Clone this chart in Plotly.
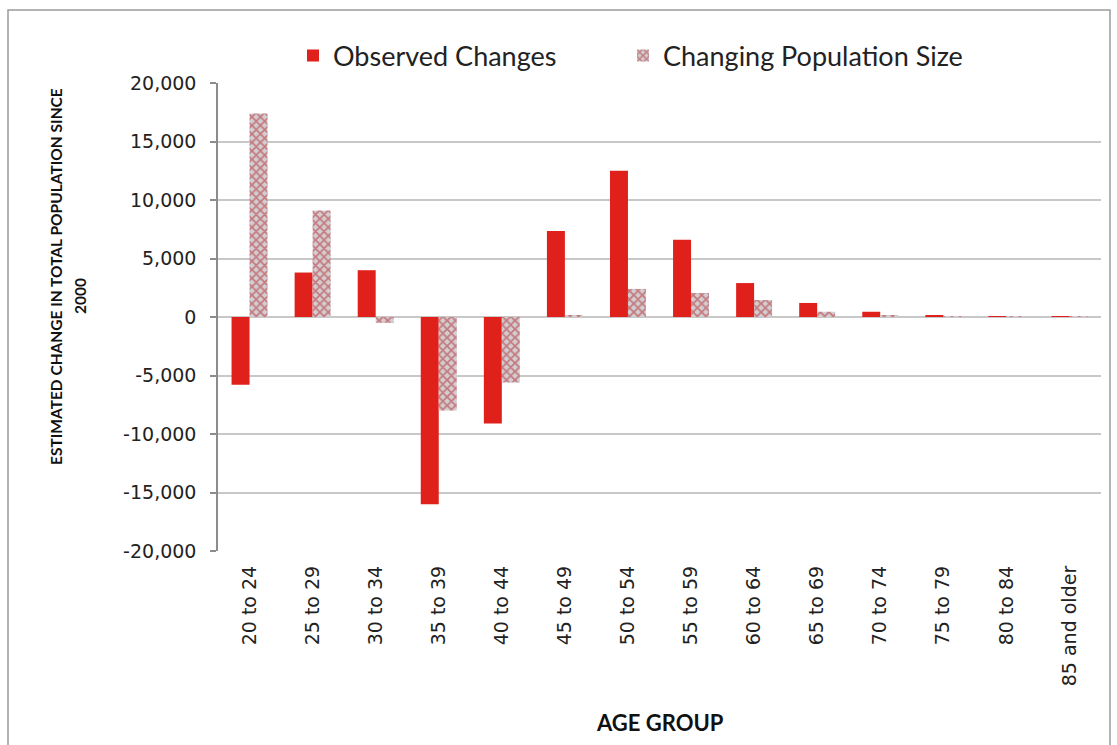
import plotly.graph_objects as go

# Age groups and estimated change in population since 2000
age_groups = ["20 to 24", "25 to 29", "30 to 34", "35 to 39", "40 to 44",
              "45 to 49", "50 to 54", "55 to 59", "60 to 64", "65 to 69",
              "70 to 74", "75 to 79", "80 to 84", "85 and older"]
observed_changes = [-5800, 3800, 4000, -16000, -9100, 7350, 12500,
                    6600, 2900, 1200, 450, 100, 80, 80]
changing_population = [17400, 9100, -500, -8000, -5600, 100, 2400,
                       2050, 1450, 450, 100, 50, 30, 20]

y_ticks = [-20000, -15000, -10000, -5000, 0, 5000, 10000, 15000, 20000]
y_tick_labels = ["-20,000", "-15,000", "-10,000", "-5,000", "0",
                 "5,000", "10,000", "15,000", "20,000"]

RED = "#e0201b"
W, H = 1117, 745
M_L, M_R, M_T, M_B = 218, 16, 83, 194
PW, PH = W - M_L - M_R, H - M_T - M_B

fig = go.Figure()
fig.add_trace(go.Bar(
    x=age_groups, y=observed_changes, name="Observed Changes",
    marker=dict(color=RED, line=dict(width=0)),
    legend="legend",
))
fig.add_trace(go.Bar(
    x=age_groups, y=changing_population, name="Changing Population Size",
    marker=dict(
        color="#d8cdd0",
        line=dict(width=0),
        pattern=dict(shape="x", fgcolor="#b3262a", bgcolor="#d3cdd1",
                     size=6, solidity=0.5),
    ),
    legend="legend2",
))

tick_font = dict(family="DejaVu Sans", size=19, color="#222222")
title_font = dict(family="Lato", size=15.5, color="#111111", weight="bold")
legend_common = dict(
    orientation="h", xref="container", yref="container",
    y=1 - 56 / H, xanchor="left", yanchor="middle",
    font=dict(family="Lato", size=27, color="#222222"),
    itemsizing="constant", bgcolor="rgba(0,0,0,0)",
)

fig.update_layout(
    width=W, height=H,
    margin=dict(l=M_L, r=M_R, t=M_T, b=M_B, autoexpand=False),
    paper_bgcolor="white", plot_bgcolor="white",
    barmode="group", bargap=0.43, bargroupgap=0,
    showlegend=True,
    legend=dict(x=293 / W, **legend_common),
    legend2=dict(x=623 / W, **legend_common),
    xaxis=dict(
        type="category", range=[-0.5, len(age_groups) - 0.5],
        showline=False, showgrid=False, zeroline=False,
        ticks="", tickangle=-90, tickfont=tick_font,
        ticklabelstandoff=10,
    ),
    xaxis2=dict(
        overlaying="x", anchor="free", position=0.5,
        range=[-0.5, len(age_groups) - 0.5], type="linear",
        showline=True, linecolor="#8c8c8c", linewidth=1.5,
        showgrid=False, zeroline=False,
        tickmode="array",
        tickvals=[i + 0.5 for i in range(len(age_groups))],
        ticks="outside", ticklen=6, tickcolor="#6f6f6f", tickwidth=1.5,
        showticklabels=False,
    ),
    yaxis=dict(
        range=[-20000, 20000], tickmode="array", tickvals=y_ticks,
        ticktext=y_tick_labels, tickfont=tick_font,
        showgrid=True, gridcolor="#c8c8c8", gridwidth=1.5,
        zeroline=False,
        showline=True, linecolor="#8c8c8c", linewidth=1.5,
        ticks="outside", ticklen=6, tickcolor="#8c8c8c", tickwidth=1.5,
        ticklabelstandoff=10,
    ),
    shapes=[dict(
        type="rect", xref="paper", yref="paper",
        x0=(8 - M_L) / PW, x1=(1110 - M_L) / PW,
        y0=-0.6, y1=1 + (M_T - 10) / PH,
        line=dict(color="#9a9a9a", width=1.5), layer="below",
    )],
    annotations=[
        dict(
            text="ESTIMATED CHANGE IN TOTAL POPULATION SINCE",
            xref="paper", yref="paper", textangle=-90,
            x=(56 - M_L) / PW, y=1 - (277 - M_T) / PH,
            xanchor="center", yanchor="middle", showarrow=False,
            font=title_font,
        ),
        dict(
            text="2000",
            xref="paper", yref="paper", textangle=-90,
            x=(80 - M_L) / PW, y=1 - (296 - M_T) / PH,
            xanchor="center", yanchor="middle", showarrow=False,
            font=title_font,
        ),
        dict(
            text="AGE GROUP",
            xref="paper", yref="paper",
            x=(660 - M_L) / PW, y=-(722 - M_T - PH) / PH,
            xanchor="center", yanchor="middle", showarrow=False,
            font=dict(family="Lato", size=22, color="#111111", weight="bold"),
        ),
    ],
)

fig.write_html("out.html")
